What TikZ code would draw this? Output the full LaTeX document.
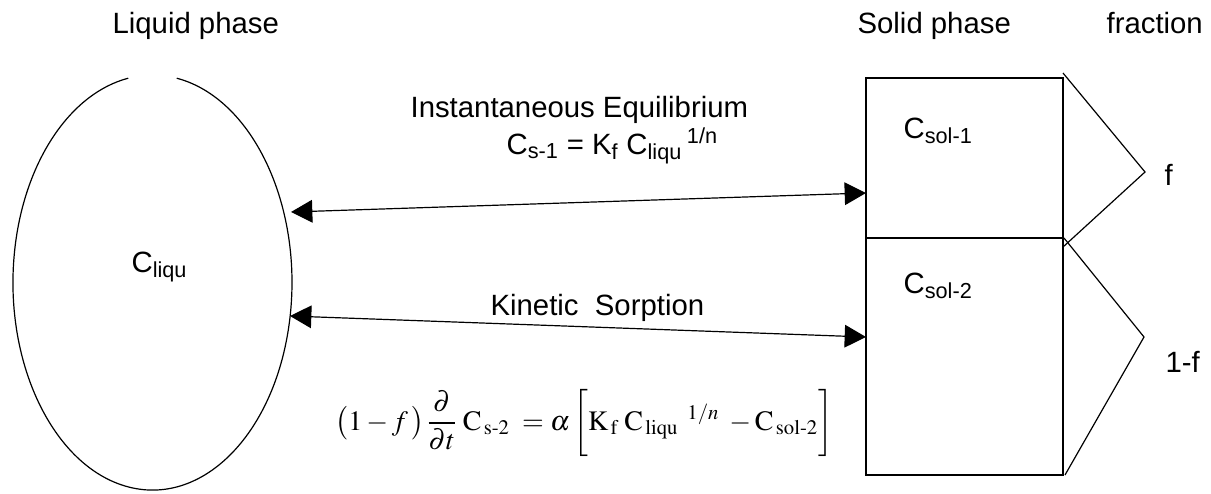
\documentclass[tikz,border=0pt]{standalone}
\usepackage{amsmath}
\usepackage{mathptmx}
\usepackage[no-math]{fontspec}
\setmainfont{Liberation Sans}
\usetikzlibrary{arrows.meta}
\tikzset{
  exch/.style={line width=0.9pt,{Triangle[length=16pt,width=17pt]}-{Triangle[length=16pt,width=17pt]}},
  lbl/.style={anchor=base west,inner sep=0pt,font=\fontsize{22}{26}\selectfont}
}
\newcommand{\hy}{\mathchar"2D\relax}
\begin{document}
\begin{tikzpicture}[x=0.75pt,y=0.75pt,yscale=-1,xscale=1,line width=0.9pt]
\useasboundingbox (0,0) rectangle (1211,493);

%Shape: Ellipse (open at the top)
\draw (176.7,78.2) arc[start angle=280,end angle=620,x radius=139.5,y radius=207.5];
%Shape: Rectangle
\draw (866,78) rectangle (1063,238);
%Shape: Rectangle
\draw (866,238) rectangle (1063,475);
%Straight Lines: fraction wedges
\draw (1063,73) -- (1145,172) -- (1063,247);
\draw (1064,238) -- (1144,337) -- (1065,475);

% ends of the exchange arrows
\coordinate (liqA) at (291,212);
\coordinate (solA) at (866,193);
\coordinate (liqB) at (290,316);
\coordinate (solB) at (866,337);
\draw [exch] (liqA) -- (solA);
\draw [exch] (liqB) -- (solB);

% Text Node
\node (liqhead) at (112,33) [lbl] {Liquid phase};
% Text Node
\node (solhead) at (857,33) [lbl] {Solid phase};
% Text Node
\node (frachead) at (1106,33) [lbl] {fraction};
% Text Node
\node (cliqu) at (131,272) [lbl] {C\textsubscript{liqu}};
% Text Node
\node (csol1) at (903,138) [lbl] {C\textsubscript{sol-1}};
% Text Node
\node (csol2) at (903,293) [lbl] {C\textsubscript{sol-2}};
% Text Node
\node (ffrac) at (1164,185) [lbl] {f};
% Text Node
\node (gfrac) at (1165,372) [lbl] {1-f};
% Text Node
\node (insteq) at (410,117) [lbl] {Instantaneous Equilibrium};
% Text Node
\node (isotherm) at (506,154) [lbl] {C\textsubscript{s-1} = K\textsubscript{f} C\textsubscript{liqu}\,\textsuperscript{1/n}};
% Text Node
\node (kinsorp) at (490,315) [lbl] {Kinetic\ \ Sorption};
% Text Node
\node (rate) at (335,430) [anchor=base west,inner sep=0pt,font=\fontsize{21}{25}\selectfont]
  {$\bigl(1-f\,\bigr)\,\dfrac{\partial}{\partial t}\;\mathrm{C}_{\,\mathrm{s\hy2}}\;=\alpha\,\biggl[\mathrm{K}_{\,\mathrm{f}}\;\mathrm{C}_{\,\mathrm{liqu}}{}^{\;\;1/n}\;-\mathrm{C}_{\,\mathrm{sol\hy2}}\biggr]$};

\end{tikzpicture}
\end{document}
